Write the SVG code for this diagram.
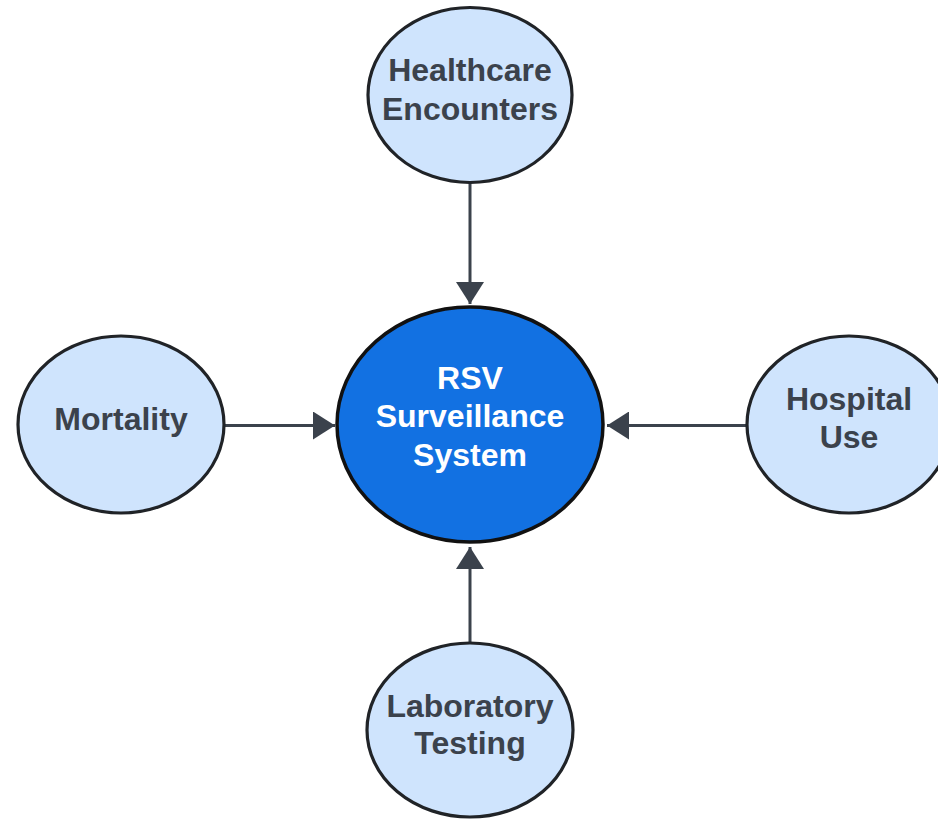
<svg xmlns="http://www.w3.org/2000/svg" width="938" height="819" viewBox="0 0 938 819">
  <style>
    .src ellipse { fill: #cfe4fd; stroke: #202327; stroke-width: 3.2; }
    .src text { fill: #3b424c; font-family: "Liberation Sans", Arial, sans-serif; font-weight: bold; font-size: 32px; text-anchor: middle; }
    .hub ellipse { fill: #1271e2; stroke: #111; stroke-width: 3.5; }
    .hub text { fill: #ffffff; font-family: "Liberation Sans", Arial, sans-serif; font-weight: bold; font-size: 32px; text-anchor: middle; }
    .edge { stroke: #3b424c; stroke-width: 3; fill: none; marker-end: url(#head); }
  </style>
  <defs>
    <marker id="head" viewBox="0 0 22 28" refX="22" refY="14" markerWidth="22" markerHeight="28" markerUnits="userSpaceOnUse" orient="auto">
      <path d="M0,0 L22,14 L0,28 Z" fill="#3b424c"/>
    </marker>
  </defs>
  <rect width="938" height="819" fill="#ffffff"/>

  <g id="connectors">
    <line class="edge" x1="470" y1="183" x2="470" y2="304"/>
    <line class="edge" x1="224" y1="425.5" x2="335" y2="425.5"/>
    <line class="edge" x1="747" y1="425.5" x2="607" y2="425.5"/>
    <line class="edge" x1="470" y1="643" x2="470" y2="547"/>
  </g>

  <g id="rsv-surveillance-system" class="hub">
    <ellipse cx="470" cy="424.5" rx="133" ry="117.5"/>
    <text x="470" y="389">RSV</text>
    <text x="470" y="427">Surveillance</text>
    <text x="470" y="466">System</text>
  </g>

  <g id="healthcare-encounters" class="src">
    <ellipse cx="470" cy="95" rx="102" ry="87.5"/>
    <text x="470" y="81">Healthcare</text>
    <text x="470" y="120">Encounters</text>
  </g>

  <g id="mortality" class="src">
    <ellipse cx="121" cy="424.5" rx="103" ry="88.5"/>
    <text x="121" y="430">Mortality</text>
  </g>

  <g id="hospital-use" class="src">
    <ellipse cx="849" cy="424.5" rx="102" ry="88.5"/>
    <text x="849" y="410">Hospital</text>
    <text x="849" y="448">Use</text>
  </g>

  <g id="laboratory-testing" class="src">
    <ellipse cx="470" cy="730" rx="103" ry="87"/>
    <text x="470" y="717">Laboratory</text>
    <text x="470" y="754">Testing</text>
  </g>
</svg>
